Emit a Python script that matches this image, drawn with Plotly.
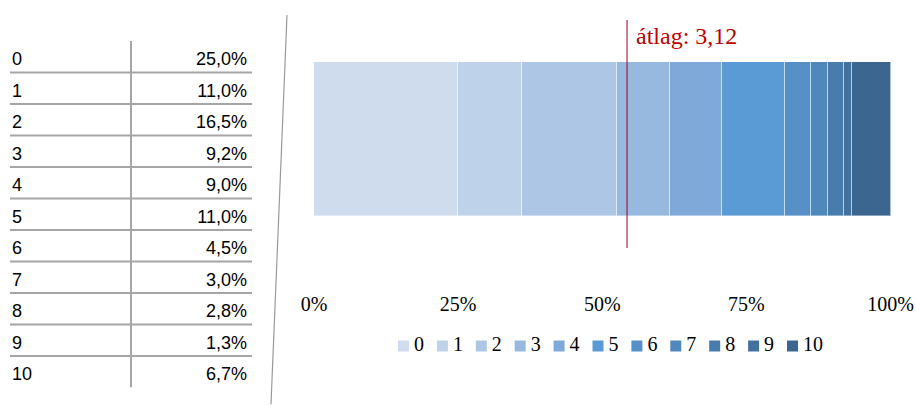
import plotly.graph_objects as go

# data
categories = ["0", "1", "2", "3", "4", "5", "6", "7", "8", "9", "10"]
shares = [25.0, 11.0, 16.5, 9.2, 9.0, 11.0, 4.5, 3.0, 2.8, 1.3, 6.7]
share_labels = ["25,0%", "11,0%", "16,5%", "9,2%", "9,0%", "11,0%",
                "4,5%", "3,0%", "2,8%", "1,3%", "6,7%"]
mean_label = "átlag: 3,12"
mean_pos = 54.3  # where the marker line sits on the 0-100% scale
tick_vals = [0, 25, 50, 75, 100]
tick_text = ["0%", "25%", "50%", "75%", "100%"]

colors = ["#CFDCEE", "#BED2EA", "#ADC6E5", "#97B8DF", "#7EA9D9", "#5B9BD5",
          "#5590C6", "#4F88BA", "#487CAC", "#41719C", "#3A6690"]

W, H = 916, 405
serif = "Liberation Serif, Times New Roman, serif"
sans = "Liberation Sans, Arial, sans-serif"

fig = go.Figure()

# stacked bar, one trace per category
for cat, val, col in zip(categories, shares, colors):
    fig.add_trace(go.Bar(
        x=[val], y=[0], name=cat, orientation="h", width=1,
        marker=dict(color=col, line=dict(color="rgba(255,255,255,0.4)", width=1)),
        xaxis="x", yaxis="y", hoverinfo="x+name", showlegend=False,
    ))

# left table: row index on y2, pixel-like units on x2
rows = list(range(len(categories)))
fig.add_trace(go.Scatter(
    x=[12] * len(rows), y=rows, text=categories, mode="text",
    textposition="middle right", textfont=dict(family=sans, size=18, color="black"),
    xaxis="x2", yaxis="y2", showlegend=False, hoverinfo="skip",
))
fig.add_trace(go.Scatter(
    x=[247] * len(rows), y=rows, text=share_labels, mode="text",
    textposition="middle left", textfont=dict(family=sans, size=18, color="black"),
    xaxis="x2", yaxis="y2", showlegend=False, hoverinfo="skip",
))

# compact legend row: category index on x3
fig.add_trace(go.Scatter(
    x=rows, y=[0] * len(rows), mode="markers",
    marker=dict(symbol="square", size=11, color=colors, line=dict(width=0)),
    xaxis="x3", yaxis="y3", showlegend=False, hoverinfo="skip",
))
fig.add_trace(go.Scatter(
    x=[r + 0.27 for r in rows], y=[0] * len(rows), text=categories, mode="text",
    textposition="middle right", textfont=dict(family=serif, size=20, color="black"),
    xaxis="x3", yaxis="y3", showlegend=False, hoverinfo="skip",
))

grey = "#A6A6A6"
shapes = []
for i in rows[:-1]:
    shapes.append(dict(type="line", xref="x2", yref="y2", x0=10, x1=252,
                       y0=i + 0.37, y1=i + 0.37, line=dict(color=grey, width=2)))
shapes.append(dict(type="line", xref="x2", yref="y2", x0=131, x1=131,
                   y0=-0.63, y1=10.36, line=dict(color=grey, width=2)))
# slanted separator
shapes.append(dict(type="line", xref="x2", yref="y2", x0=287, x1=271,
                   y0=-1.45, y1=10.9, line=dict(color="#9A9A9A", width=1.2)))
# average marker
shapes.append(dict(type="line", xref="x", yref="y", x0=mean_pos, x1=mean_pos,
                   y0=-0.708, y1=0.7727, line=dict(color="#A0001A", width=1)))

fig.update_layout(
    width=W, height=H,
    margin=dict(l=0, r=0, t=0, b=0, autoexpand=False),
    paper_bgcolor="white", plot_bgcolor="rgba(0,0,0,0)",
    barmode="stack", bargap=0,
    xaxis=dict(domain=[314 / W, 890.5 / W], range=[0, 100], tickvals=tick_vals,
               ticktext=tick_text, showgrid=False, zeroline=False, showline=False,
               tickfont=dict(family=serif, size=20, color="black"), fixedrange=True),
    yaxis=dict(domain=[1 - 290 / H, 1 - 20 / H], range=[-0.9805, 0.7727],
               visible=False, fixedrange=True),
    xaxis2=dict(domain=[0, 0.32], range=[0, 0.32 * W], visible=False, anchor="y2"),
    yaxis2=dict(domain=[0, 1], range=[10.927, -1.930], visible=False, anchor="x2"),
    xaxis3=dict(domain=[0, 1], range=[-403.5 / 38.9, (W - 403.5) / 38.9],
                visible=False, anchor="y3"),
    yaxis3=dict(domain=[0, 1], range=[-(H - 346), 346], visible=False, anchor="x3"),
    shapes=shapes,
    annotations=[dict(x=mean_pos, y=0.669, xref="x", yref="y", text=mean_label,
                      showarrow=False, xanchor="left", yanchor="middle", xshift=7,
                      font=dict(family=serif, size=24, color="#C00000"))],
    showlegend=False,
)

fig.write_html("out.html", config={"displayModeBar": False},
               post_script="document.body.style.margin='0';")
